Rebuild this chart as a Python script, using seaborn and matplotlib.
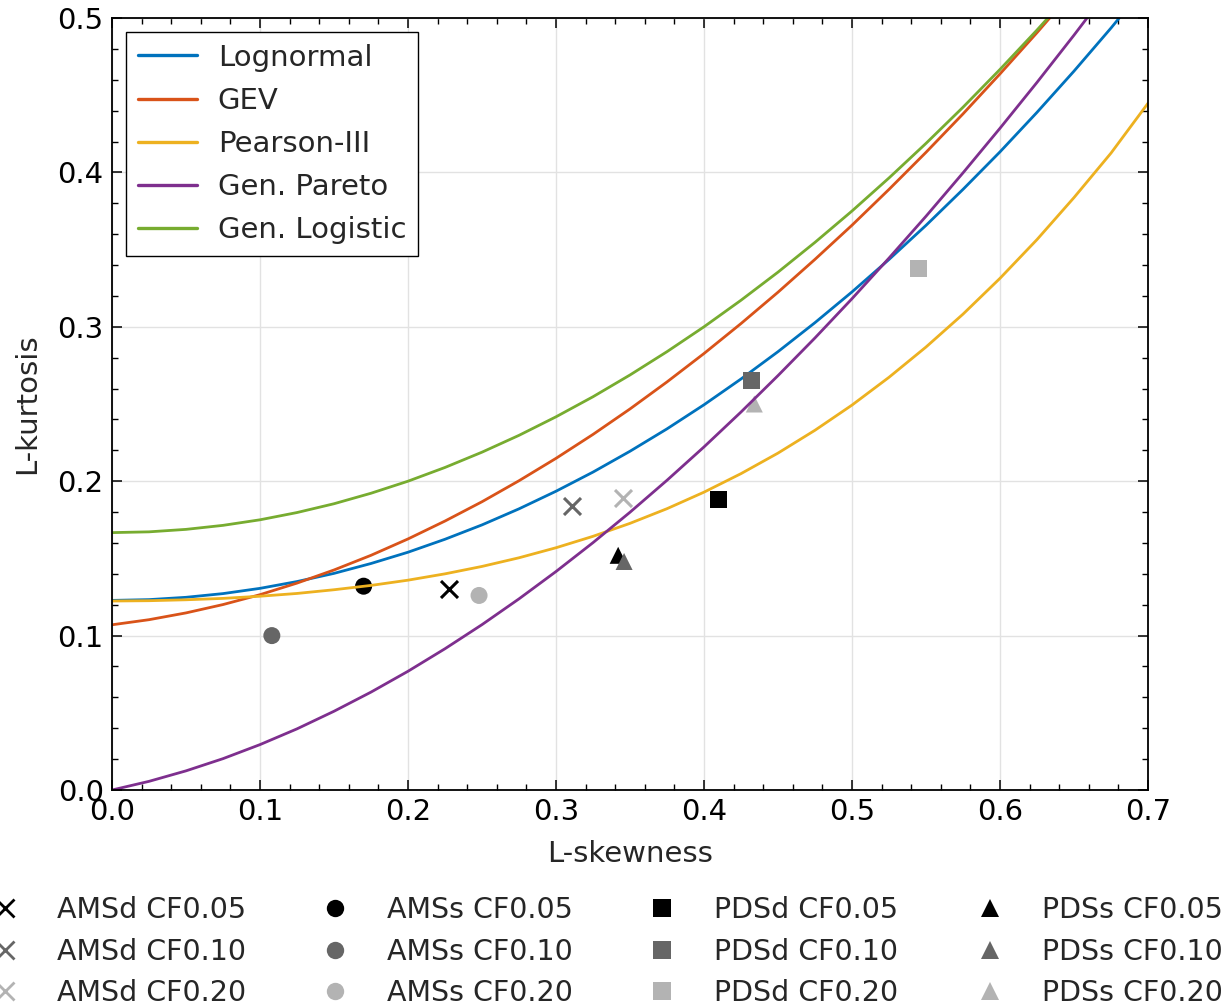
import matplotlib
matplotlib.use("Agg")
import matplotlib.pyplot as plt
import seaborn as sns
import pandas as pd
from matplotlib.lines import Line2D

# L-skewness grid shared by the theoretical curves (step 0.025)
skew_grid = [0.000, 0.025, 0.050, 0.075, 0.100, 0.125, 0.150, 0.175, 0.200, 0.225,
             0.250, 0.275, 0.300, 0.325, 0.350, 0.375, 0.400, 0.425, 0.450, 0.475,
             0.500, 0.525, 0.550, 0.575, 0.600, 0.625, 0.650, 0.675, 0.700]

# L-kurtosis of each distribution along the grid
lognormal = [0.1228, 0.1233, 0.1248, 0.1272, 0.1306, 0.1350, 0.1403, 0.1467, 0.1540, 0.1624,
             0.1717, 0.1821, 0.1935, 0.2059, 0.2194, 0.2339, 0.2495, 0.2662, 0.2839, 0.3027,
             0.3226, 0.3436, 0.3657, 0.3890, 0.4133, 0.4389, 0.4656, 0.4935, 0.5227]
gev = [0.1070, 0.1103, 0.1147, 0.1201, 0.1265, 0.1340, 0.1425, 0.1520, 0.1626, 0.1742,
       0.1867, 0.2003, 0.2148, 0.2303, 0.2468, 0.2643, 0.2827, 0.3021, 0.3224, 0.3437,
       0.3658, 0.3890, 0.4130, 0.4379, 0.4638, 0.4905, 0.5182, 0.5467, 0.5762]
pearson3 = [0.1224, 0.1226, 0.1232, 0.1241, 0.1255, 0.1273, 0.1297, 0.1325, 0.1359, 0.1400,
            0.1448, 0.1504, 0.1569, 0.1643, 0.1727, 0.1822, 0.1929, 0.2049, 0.2182, 0.2330,
            0.2493, 0.2673, 0.2869, 0.3082, 0.3314, 0.3565, 0.3837, 0.4125, 0.4448]
gen_pareto = [0.0000, 0.0056, 0.0124, 0.0203, 0.0294, 0.0396, 0.0510, 0.0634, 0.0769, 0.0915,
              0.1071, 0.1238, 0.1415, 0.1602, 0.1799, 0.2006, 0.2222, 0.2448, 0.2684, 0.2928,
              0.3182, 0.3445, 0.3716, 0.3997, 0.4286, 0.4583, 0.4889, 0.5204, 0.5526]
gen_logistic = [0.1667, 0.1672, 0.1688, 0.1714, 0.1750, 0.1797, 0.1854, 0.1922, 0.2000, 0.2089,
                0.2188, 0.2297, 0.2417, 0.2547, 0.2688, 0.2839, 0.3000, 0.3172, 0.3354, 0.3547,
                0.3750, 0.3964, 0.4188, 0.4422, 0.4667, 0.4922, 0.5188, 0.5464, 0.5750]

curve_names = ["Lognormal", "GEV", "Pearson-III", "Gen. Pareto", "Gen. Logistic"]
curve_values = [lognormal, gev, pearson3, gen_pareto, gen_logistic]
curve_colors = ["#0072BD", "#D95319", "#EDB120", "#7E2F8E", "#77AC30"]

# Sample L-moment ratios (skewness, kurtosis) per series and censoring fraction
series_labels = [
    "AMSd CF0.05", "AMSd CF0.10", "AMSd CF0.20",
    "AMSs CF0.05", "AMSs CF0.10", "AMSs CF0.20",
    "PDSd CF0.05", "PDSd CF0.10", "PDSd CF0.20",
    "PDSs CF0.05", "PDSs CF0.10", "PDSs CF0.20",
]
sample_skew = [0.228, 0.311, 0.345,
               0.170, 0.108, 0.248,
               0.410, 0.432, 0.545,
               0.342, 0.346, 0.434]
sample_kurt = [0.130, 0.184, 0.189,
               0.132, 0.100, 0.126,
               0.188, 0.265, 0.338,
               0.152, 0.148, 0.250]

group_markers = ["x", "o", "s", "^"]
shade_colors = ["#000000", "#666666", "#b3b3b3"]

sns.set_style("ticks")
plt.rcParams["font.family"] = ["DejaVu Sans"]
FS = 21

fig = plt.figure(figsize=(12.32, 10.08), dpi=100)
ax = fig.add_axes([112 / 1232, 1 - 790 / 1008, 1036 / 1232, 772 / 1008])

# Lognormal and GEV sit beneath the sample points, the other curves above them
curve_z = [1.5, 1.5, 2.5, 2.5, 2.5]
for name, vals, col, z in zip(curve_names, curve_values, curve_colors, curve_z):
    df = pd.DataFrame({"skew": skew_grid, "kurt": vals})
    sns.lineplot(data=df, x="skew", y="kurt", color=col, linewidth=2.0, ax=ax,
                 sort=False, zorder=z)

point_handles = []
for i, label in enumerate(series_labels):
    g, k = divmod(i, 3)
    mk = group_markers[g]
    col = shade_colors[k]
    if mk == "x":
        sns.scatterplot(x=[sample_skew[i]], y=[sample_kurt[i]], marker="x", color=col,
                        s=150, linewidth=2.2, ax=ax, zorder=2)
    else:
        sns.scatterplot(x=[sample_skew[i]], y=[sample_kurt[i]], marker=mk, color=col,
                        s=150, edgecolor="none", ax=ax, zorder=2)
    point_handles.append(Line2D([], [], linestyle="none", marker=mk, color=col,
                                markersize=12.5, markeredgewidth=2.0 if mk == "x" else 0,
                                label=label))

ax.set_xlim(0, 0.7)
ax.set_ylim(0, 0.5)
ax.set_xticks([0.0, 0.1, 0.2, 0.3, 0.4, 0.5, 0.6, 0.7])
ax.set_yticks([0.0, 0.1, 0.2, 0.3, 0.4, 0.5])
ax.set_xticks([i * 0.02 for i in range(36)], minor=True)
ax.set_yticks([i * 0.02 for i in range(26)], minor=True)
ax.tick_params(which="both", direction="in", top=True, right=True, colors="black",
               labelsize=FS)
ax.tick_params(which="major", length=7.5, width=1.1, pad=6)
ax.tick_params(which="minor", length=4.5, width=1.0)
ax.grid(True, which="major", color="#e2e2e2", linewidth=1.0)
ax.set_axisbelow(True)
for sp in ax.spines.values():
    sp.set_color("black")
    sp.set_linewidth(1.3)
ax.set_xlabel("L-skewness", fontsize=FS, labelpad=10)
ax.set_ylabel("L-kurtosis", fontsize=FS, labelpad=12)

line_handles = [Line2D([], [], color=c, linewidth=2.4, label=n)
                for n, c in zip(curve_names, curve_colors)]
leg = ax.legend(handles=line_handles, loc="upper left",
                bbox_to_anchor=(14 / 1036, 1 - 14 / 772), borderaxespad=0,
                fontsize=FS, frameon=True, fancybox=False, edgecolor="black",
                framealpha=1, handlelength=2.05, handletextpad=0.7,
                borderpad=0.4, labelspacing=0.52)
leg.get_frame().set_linewidth(1.0)
leg.set_zorder(5)

# Sample legend below the axes, one column per series group
LFS = 20.5
col_x = [-24, 306, 633, 961]
for g in range(4):
    fig.legend(handles=point_handles[3 * g:3 * g + 3], loc="upper left",
               bbox_to_anchor=(col_x[g] / 1232, 1 - 896 / 1008), borderaxespad=0,
               fontsize=LFS, frameon=False, handlelength=2.05, handletextpad=0.8,
               labelspacing=0.48, borderpad=0.0)

fig.savefig("out.png", dpi=100)
